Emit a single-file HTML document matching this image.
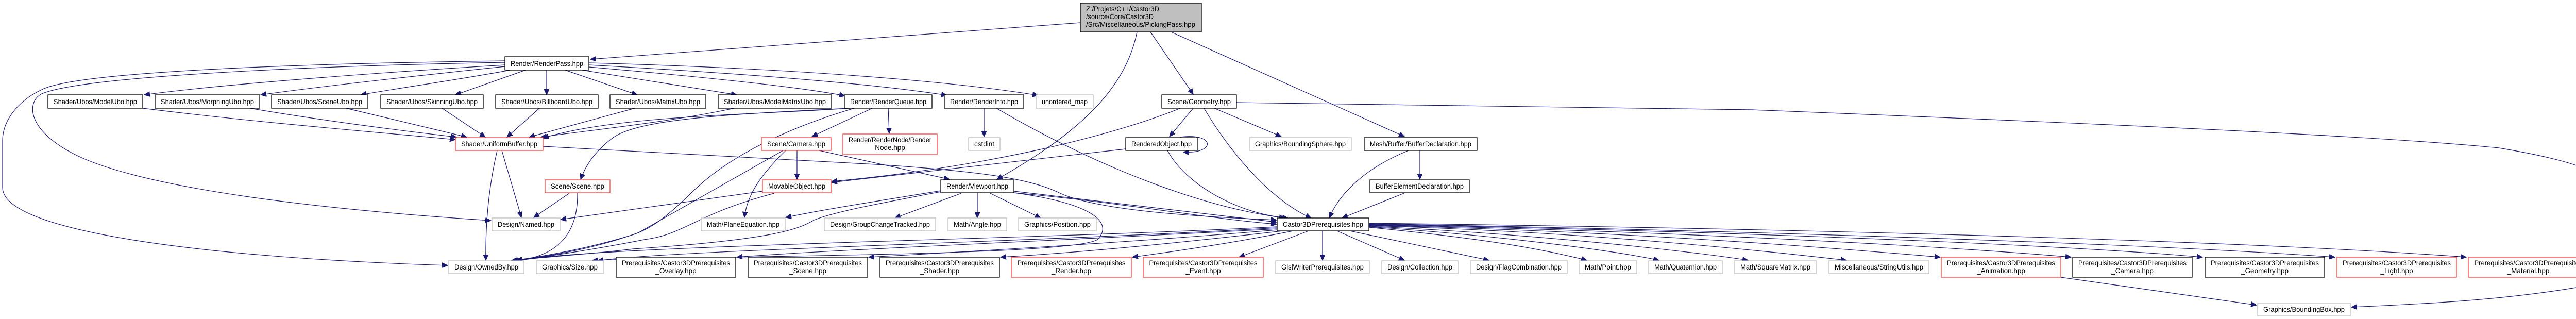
<!DOCTYPE html>
<html><head><meta charset="utf-8"><style>
html,body{margin:0;padding:0;background:#fff;}
svg{display:block;}
text{font-family:"Liberation Sans",Arial,sans-serif;font-size:13.5px;fill:#000;}
.e{fill:none;stroke:#191970;stroke-width:1.2;marker-end:url(#a);}
.b{fill:#fff;stroke:#000;stroke-width:1.3;}
.r{fill:#fff;stroke:#ff4040;stroke-width:1.3;}
.g{fill:#fff;stroke:#bfbfbf;stroke-width:1.3;}
</style></head><body>
<svg width="5069" height="619" viewBox="0 0 5069 619" xmlns="http://www.w3.org/2000/svg">
<defs><marker id="a" markerUnits="userSpaceOnUse" markerWidth="12" markerHeight="10" refX="11" refY="5" orient="auto"><path d="M0,0 L11,5 L0,10 z" fill="#191970" stroke="#191970"/></marker></defs>

<!-- edges -->
<path class="e" d="M2097,44 L1146,115"/>
<path class="e" d="M2207,62 C2185,170 2100,255 1935,348"/>
<path class="e" d="M2233,62 L2316,183"/>
<path class="e" d="M2273,62 L2726,265"/>

<path class="e" d="M980,126 C700,143 420,165 280,184"/>
<path class="e" d="M980,129 C800,148 620,168 506,184"/>
<path class="e" d="M990,136 C900,153 780,170 700,184"/>
<path class="e" d="M1020,136 L884,184"/>
<path class="e" d="M1061,136 L1061,184"/>
<path class="e" d="M1097,136 L1237,184"/>
<path class="e" d="M1130,136 L1430,184"/>
<path class="e" d="M1143,130 C1350,148 1550,168 1640,186"/>
<path class="e" d="M1143,126 C1450,143 1700,163 1838,185"/>
<path class="e" d="M1143,122 C1550,133 1850,158 2015,185"/>
<path class="e" d="M980,118 C600,123 150,138 81,174 C30,198 5,238 5,273 L5,364 C5,450 400,500 869,515"/>
<path class="e" d="M980,121 C600,128 160,148 81,182 C50,198 50,258 163,308 C300,366 600,405 953,428"/>

<path class="e" d="M277,210 C500,238 750,258 884,271"/>
<path class="e" d="M485,210 C650,238 800,256 886,266"/>
<path class="e" d="M672,210 C780,236 860,255 906,266"/>
<path class="e" d="M858,210 L942,266"/>
<path class="e" d="M1047,210 L984,266"/>
<path class="e" d="M1232,210 L1027,266"/>
<path class="e" d="M1425,210 C1300,237 1150,252 1050,266"/>
<path class="e" d="M1645,210 C1500,222 1200,222 1054,268"/>

<path class="e" d="M1650,210 C1400,222 1240,232 1190,267 C1150,297 1135,326 1127,348"/>
<path class="e" d="M1658,210 C1500,257 1400,316 1340,376 C1290,425 1260,445 1230,455 C1150,480 1060,497 992,506"/>
<path class="e" d="M1693,210 L1576,265"/>
<path class="e" d="M1724,210 L1726,259"/>

<path class="e" d="M965,292 C950,356 942,425 943,505"/>
<path class="e" d="M974,292 L1012,422"/>
<path class="e" d="M1054,284 L1700,319 C1900,332 2000,346 2060,376 C2150,415 2400,423 2478,427"/>

<path class="e" d="M1547,292 L1547,348"/>
<path class="e" d="M1525,292 C1480,336 1450,376 1445,422"/>
<path class="e" d="M1520,292 L1240,451 C1150,485 1050,499 995,506"/>
<path class="e" d="M1590,292 L1843,348"/>

<path class="e" d="M1105,375 L1036,422"/>
<path class="e" d="M1121,375 C1122,465 1070,499 1000,506"/>

<path class="e" d="M1480,371 L1088,426"/>
<path class="e" d="M1503,375 C1350,415 1330,455 1250,465 C1150,485 1050,499 997,507"/>
<path class="e" d="M2291,210 C2150,267 1900,326 1614,352"/>
<path class="e" d="M2185,289 L1614,354"/>
<path class="e" d="M2290,266 C2360,257 2360,299 2297,295"/>
<path class="e" d="M2266,292 C2300,356 2400,415 2500,423"/>

<path class="e" d="M2316,210 L2270,265"/>
<path class="e" d="M2337,210 C2400,316 2480,395 2545,423"/>
<path class="e" d="M2357,210 L2487,265"/>
<path class="e" d="M2400,199 L3400,213 C4000,237 4600,262 4850,287 C5000,312 5062,337 5062,367 L5062,513 C5062,538 5040,553 5000,558 C4850,583 4700,590 4564,596"/>

<path class="e" d="M1910,210 L1910,265"/>
<path class="e" d="M1934,210 C2150,336 2350,405 2494,423"/>

<path class="e" d="M1866,375 L1737,423"/>
<path class="e" d="M1897,375 L1897,423"/>
<path class="e" d="M1922,375 L2020,423"/>
<path class="e" d="M1968,371 L2478,431"/>
<path class="e" d="M1968,374 C2200,396 2350,425 2478,435"/>
<path class="e" d="M1826,370 C1700,391 1600,406 1525,422"/>
<path class="e" d="M1826,372 C1700,396 1620,411 1580,427 C1550,445 1500,465 1229,483 C1150,493 1050,499 1002,505"/>
<path class="e" d="M1968,374 C2130,396 2160,435 2130,465 C2080,495 1500,495 1150,505"/>

<path class="e" d="M2756,292 L2756,348"/>
<path class="e" d="M2734,292 C2650,326 2600,375 2580,423"/>
<path class="e" d="M2725,375 L2605,423"/>

<path class="e" d="M2479,440 C2000,465 1200,475 1003,505"/>
<path class="e" d="M2479,442 C2000,470 1300,485 1160,506"/>
<path class="e" d="M2479,444 C2100,465 1600,485 1430,499"/>
<path class="e" d="M2479,446 C2200,470 1850,490 1686,499"/>
<path class="e" d="M2490,448 C2300,470 2100,490 1942,499"/>
<path class="e" d="M2510,448 C2400,470 2300,485 2198,499"/>
<path class="e" d="M2540,448 L2405,499"/>
<path class="e" d="M2567,448 L2567,505"/>
<path class="e" d="M2595,448 L2726,505"/>
<path class="e" d="M2620,448 L2890,505"/>
<path class="e" d="M2657,441 C2900,465 3000,485 3080,505"/>
<path class="e" d="M2657,440 C2950,460 3150,490 3220,505"/>
<path class="e" d="M2657,439 C3000,455 3300,490 3393,505"/>
<path class="e" d="M2657,438 C3100,450 3450,490 3584,505"/>
<path class="e" d="M2657,437 C3200,450 3600,485 3766,499"/>
<path class="e" d="M2657,436 C3300,450 3800,480 4020,499"/>
<path class="e" d="M2657,435 C3400,450 4000,475 4275,499"/>
<path class="e" d="M2657,434 C3500,450 4200,475 4532,499"/>
<path class="e" d="M2657,433 C3600,445 4400,470 4787,499"/>
<path class="e" d="M4000,538 L4380,592"/>

<!-- nodes -->
<rect x="2097" y="6" width="235" height="56" fill="#bfbfbf" stroke="#000" stroke-width="1.3"/>
<text x="2108" y="22" textLength="142" lengthAdjust="spacingAndGlyphs">Z:/Projets/C++/Castor3D</text>
<text x="2108" y="37" textLength="131" lengthAdjust="spacingAndGlyphs">/source/Core/Castor3D</text>
<text x="2108" y="52" textLength="212" lengthAdjust="spacingAndGlyphs">/Src/Miscellaneous/PickingPass.hpp</text>

<rect class="b" x="980" y="110" width="163" height="26"/><text x="1061.5" y="128" text-anchor="middle" textLength="141" lengthAdjust="spacingAndGlyphs">Render/RenderPass.hpp</text>

<rect class="b" x="93" y="184" width="184" height="26"/><text x="185" y="202" text-anchor="middle" textLength="162" lengthAdjust="spacingAndGlyphs">Shader/Ubos/ModelUbo.hpp</text>
<rect class="b" x="301" y="184" width="203" height="26"/><text x="402.5" y="202" text-anchor="middle" textLength="181" lengthAdjust="spacingAndGlyphs">Shader/Ubos/MorphingUbo.hpp</text>
<rect class="b" x="527" y="184" width="187" height="26"/><text x="620.5" y="202" text-anchor="middle" textLength="165" lengthAdjust="spacingAndGlyphs">Shader/Ubos/SceneUbo.hpp</text>
<rect class="b" x="739" y="184" width="199" height="26"/><text x="838.5" y="202" text-anchor="middle" textLength="177" lengthAdjust="spacingAndGlyphs">Shader/Ubos/SkinningUbo.hpp</text>
<rect class="b" x="962" y="184" width="199" height="26"/><text x="1061.5" y="202" text-anchor="middle" textLength="177" lengthAdjust="spacingAndGlyphs">Shader/Ubos/BillboardUbo.hpp</text>
<rect class="b" x="1184" y="184" width="186" height="26"/><text x="1277" y="202" text-anchor="middle" textLength="164" lengthAdjust="spacingAndGlyphs">Shader/Ubos/MatrixUbo.hpp</text>
<rect class="b" x="1394" y="184" width="220" height="26"/><text x="1504" y="202" text-anchor="middle" textLength="198" lengthAdjust="spacingAndGlyphs">Shader/Ubos/ModelMatrixUbo.hpp</text>
<rect class="b" x="1639" y="184" width="170" height="26"/><text x="1724" y="202" text-anchor="middle" textLength="148" lengthAdjust="spacingAndGlyphs">Render/RenderQueue.hpp</text>
<rect class="b" x="1833" y="184" width="154" height="26"/><text x="1910" y="202" text-anchor="middle" textLength="132" lengthAdjust="spacingAndGlyphs">Render/RenderInfo.hpp</text>
<rect class="g" x="2011" y="184" width="111" height="26"/><text x="2066.5" y="202" text-anchor="middle" textLength="89" lengthAdjust="spacingAndGlyphs">unordered_map</text>
<rect class="b" x="2255" y="184" width="145" height="26"/><text x="2327.5" y="202" text-anchor="middle" textLength="123" lengthAdjust="spacingAndGlyphs">Scene/Geometry.hpp</text>

<rect class="r" x="884" y="267" width="170" height="25"/><text x="969" y="284" text-anchor="middle" textLength="148" lengthAdjust="spacingAndGlyphs">Shader/UniformBuffer.hpp</text>
<rect class="r" x="1478" y="267" width="135" height="25"/><text x="1545.5" y="284" text-anchor="middle" textLength="113" lengthAdjust="spacingAndGlyphs">Scene/Camera.hpp</text>
<rect class="r" x="1636" y="260" width="183" height="40"/><text x="1727.5" y="276" text-anchor="middle" textLength="161" lengthAdjust="spacingAndGlyphs">Render/RenderNode/Render</text><text x="1727.5" y="291" text-anchor="middle">Node.hpp</text>
<rect class="g" x="1880" y="267" width="61" height="25"/><text x="1910.5" y="284" text-anchor="middle" textLength="39" lengthAdjust="spacingAndGlyphs">cstdint</text>
<rect class="b" x="2185" y="267" width="139" height="25"/><text x="2254.5" y="284" text-anchor="middle" textLength="117" lengthAdjust="spacingAndGlyphs">RenderedObject.hpp</text>
<rect class="g" x="2425" y="267" width="198" height="25"/><text x="2524" y="284" text-anchor="middle" textLength="176" lengthAdjust="spacingAndGlyphs">Graphics/BoundingSphere.hpp</text>
<rect class="b" x="2648" y="267" width="219" height="25"/><text x="2757.5" y="284" text-anchor="middle" textLength="197" lengthAdjust="spacingAndGlyphs">Mesh/Buffer/BufferDeclaration.hpp</text>

<rect class="r" x="1058" y="349" width="126" height="25"/><text x="1121" y="366" text-anchor="middle" textLength="104" lengthAdjust="spacingAndGlyphs">Scene/Scene.hpp</text>
<rect class="r" x="1480" y="349" width="133" height="25"/><text x="1546.5" y="366" text-anchor="middle" textLength="111" lengthAdjust="spacingAndGlyphs">MovableObject.hpp</text>
<rect class="b" x="1826" y="349" width="142" height="25"/><text x="1897" y="366" text-anchor="middle" textLength="120" lengthAdjust="spacingAndGlyphs">Render/Viewport.hpp</text>
<rect class="b" x="2659" y="349" width="193" height="25"/><text x="2755.5" y="366" text-anchor="middle" textLength="171" lengthAdjust="spacingAndGlyphs">BufferElementDeclaration.hpp</text>

<rect class="g" x="955" y="423" width="132" height="25"/><text x="1021" y="440" text-anchor="middle" textLength="110" lengthAdjust="spacingAndGlyphs">Design/Named.hpp</text>
<rect class="g" x="1361" y="423" width="163" height="25"/><text x="1442.5" y="440" text-anchor="middle" textLength="141" lengthAdjust="spacingAndGlyphs">Math/PlaneEquation.hpp</text>
<rect class="g" x="1600" y="423" width="216" height="25"/><text x="1708" y="440" text-anchor="middle" textLength="194" lengthAdjust="spacingAndGlyphs">Design/GroupChangeTracked.hpp</text>
<rect class="g" x="1840" y="423" width="114" height="25"/><text x="1897" y="440" text-anchor="middle" textLength="92" lengthAdjust="spacingAndGlyphs">Math/Angle.hpp</text>
<rect class="g" x="1977" y="423" width="151" height="25"/><text x="2052.5" y="440" text-anchor="middle" textLength="129" lengthAdjust="spacingAndGlyphs">Graphics/Position.hpp</text>
<rect class="b" x="2479" y="423" width="178" height="25"/><text x="2568" y="440" text-anchor="middle" textLength="156" lengthAdjust="spacingAndGlyphs">Castor3DPrerequisites.hpp</text>

<rect class="g" x="871" y="506" width="146" height="25"/><text x="944" y="523" text-anchor="middle" textLength="124" lengthAdjust="spacingAndGlyphs">Design/OwnedBy.hpp</text>
<rect class="g" x="1041" y="506" width="130" height="25"/><text x="1106" y="523" text-anchor="middle" textLength="108" lengthAdjust="spacingAndGlyphs">Graphics/Size.hpp</text>
<rect class="b" x="1196" y="499" width="232" height="39"/><text x="1312" y="515" text-anchor="middle" textLength="210" lengthAdjust="spacingAndGlyphs">Prerequisites/Castor3DPrerequisites</text><text x="1312" y="530" text-anchor="middle">_Overlay.hpp</text>
<rect class="b" x="1452" y="499" width="232" height="39"/><text x="1568" y="515" text-anchor="middle" textLength="210" lengthAdjust="spacingAndGlyphs">Prerequisites/Castor3DPrerequisites</text><text x="1568" y="530" text-anchor="middle">_Scene.hpp</text>
<rect class="b" x="1708" y="499" width="232" height="39"/><text x="1824" y="515" text-anchor="middle" textLength="210" lengthAdjust="spacingAndGlyphs">Prerequisites/Castor3DPrerequisites</text><text x="1824" y="530" text-anchor="middle">_Shader.hpp</text>
<rect class="r" x="1963" y="499" width="233" height="39"/><text x="2079.5" y="515" text-anchor="middle" textLength="210" lengthAdjust="spacingAndGlyphs">Prerequisites/Castor3DPrerequisites</text><text x="2079.5" y="530" text-anchor="middle">_Render.hpp</text>
<rect class="r" x="2219" y="499" width="233" height="39"/><text x="2335.5" y="515" text-anchor="middle" textLength="210" lengthAdjust="spacingAndGlyphs">Prerequisites/Castor3DPrerequisites</text><text x="2335.5" y="530" text-anchor="middle">_Event.hpp</text>
<rect class="g" x="2476" y="506" width="182" height="25"/><text x="2567" y="523" text-anchor="middle" textLength="160" lengthAdjust="spacingAndGlyphs">GlslWriterPrerequisites.hpp</text>
<rect class="g" x="2682" y="506" width="148" height="25"/><text x="2756" y="523" text-anchor="middle" textLength="126" lengthAdjust="spacingAndGlyphs">Design/Collection.hpp</text>
<rect class="g" x="2854" y="506" width="188" height="25"/><text x="2948" y="523" text-anchor="middle" textLength="166" lengthAdjust="spacingAndGlyphs">Design/FlagCombination.hpp</text>
<rect class="g" x="3065" y="506" width="112" height="25"/><text x="3121" y="523" text-anchor="middle" textLength="90" lengthAdjust="spacingAndGlyphs">Math/Point.hpp</text>
<rect class="g" x="3200" y="506" width="143" height="25"/><text x="3271.5" y="523" text-anchor="middle" textLength="121" lengthAdjust="spacingAndGlyphs">Math/Quaternion.hpp</text>
<rect class="g" x="3367" y="506" width="158" height="25"/><text x="3446" y="523" text-anchor="middle" textLength="136" lengthAdjust="spacingAndGlyphs">Math/SquareMatrix.hpp</text>
<rect class="g" x="3550" y="506" width="194" height="25"/><text x="3647" y="523" text-anchor="middle" textLength="172" lengthAdjust="spacingAndGlyphs">Miscellaneous/StringUtils.hpp</text>
<rect class="r" x="3768" y="499" width="232" height="39"/><text x="3884" y="515" text-anchor="middle" textLength="210" lengthAdjust="spacingAndGlyphs">Prerequisites/Castor3DPrerequisites</text><text x="3884" y="530" text-anchor="middle">_Animation.hpp</text>
<rect class="b" x="4023" y="499" width="232" height="39"/><text x="4139" y="515" text-anchor="middle" textLength="210" lengthAdjust="spacingAndGlyphs">Prerequisites/Castor3DPrerequisites</text><text x="4139" y="530" text-anchor="middle">_Camera.hpp</text>
<rect class="b" x="4280" y="499" width="232" height="39"/><text x="4396" y="515" text-anchor="middle" textLength="210" lengthAdjust="spacingAndGlyphs">Prerequisites/Castor3DPrerequisites</text><text x="4396" y="530" text-anchor="middle">_Geometry.hpp</text>
<rect class="r" x="4536" y="499" width="232" height="39"/><text x="4652" y="515" text-anchor="middle" textLength="210" lengthAdjust="spacingAndGlyphs">Prerequisites/Castor3DPrerequisites</text><text x="4652" y="530" text-anchor="middle">_Light.hpp</text>
<rect class="r" x="4791" y="499" width="233" height="39"/><text x="4907.5" y="515" text-anchor="middle" textLength="210" lengthAdjust="spacingAndGlyphs">Prerequisites/Castor3DPrerequisites</text><text x="4907.5" y="530" text-anchor="middle">_Material.hpp</text>

<rect class="g" x="4382" y="588" width="180" height="25"/><text x="4472" y="605" text-anchor="middle" textLength="158" lengthAdjust="spacingAndGlyphs">Graphics/BoundingBox.hpp</text>
</svg>
</body></html>
